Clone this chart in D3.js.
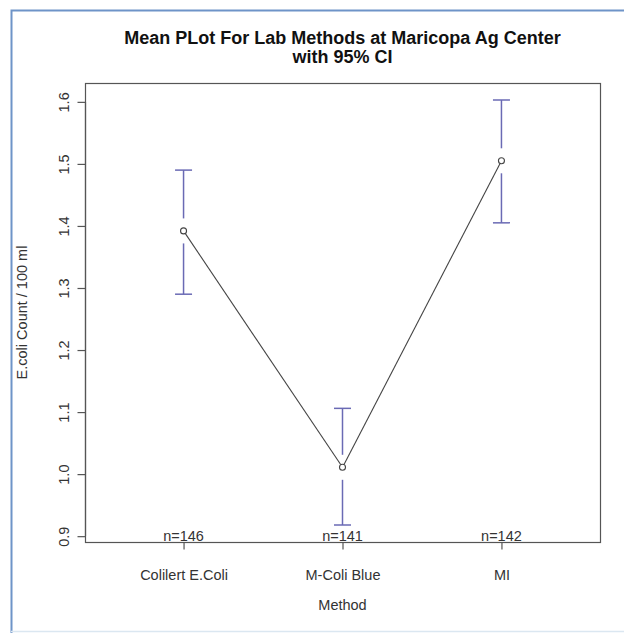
<!DOCTYPE html>
<html>
<head>
<meta charset="utf-8">
<script src="https://cdn.jsdelivr.net/npm/d3@7"></script>
<style>
  html, body { margin: 0; padding: 0; background: #fff; }
  svg { display: block; font-family: "Liberation Sans", Arial, sans-serif; }
</style>
</head>
<body>
<svg id="chart" width="624" height="633"></svg>
<script>
// Mean E.coli count per lab method with 95% confidence intervals
const methods = ["Colilert E.Coli", "M-Coli Blue", "MI"];
const means   = [1.392, 1.011, 1.505];
const ciLower = [1.290, 0.918, 1.405];
const ciUpper = [1.490, 1.106, 1.603];
const counts  = [146, 141, 142];
const yTicks  = [0.9, 1.0, 1.1, 1.2, 1.3, 1.4, 1.5, 1.6];

const svg = d3.select("#chart");
const fs = 14.5;

// outer frame
svg.append("path")
  .attr("d", "M11.5,633 V10.5 H624")
  .attr("fill", "none").attr("stroke", "#6e94c8").attr("stroke-width", 2);
svg.append("line")
  .attr("x1", 11).attr("x2", 624).attr("y1", 631.5).attr("y2", 631.5)
  .attr("stroke", "#dbe7f1").attr("stroke-width", 1.5);

const box = { left: 85, right: 600, top: 83, bottom: 542 };

// x positions use R-style padded range around indices 1..3
const x = d3.scaleLinear().domain([0.38, 3.62]).range([box.left, box.right]);
const yMin = d3.min(ciLower), yMax = d3.max(ciUpper);
const pad = (yMax - yMin) * 0.04;
const y = d3.scaleLinear().domain([yMin - pad, yMax + pad]).range([box.bottom, box.top]);

const textCol = "#333";

// plot box
svg.append("rect")
  .attr("x", box.left + 0.5).attr("y", box.top + 0.5)
  .attr("width", box.right - box.left).attr("height", box.bottom - box.top)
  .attr("fill", "none").attr("stroke", "#555").attr("stroke-width", 1.2);

// y axis
const yAxis = svg.append("g")
  .attr("transform", `translate(${box.left + 0.5},0)`)
  .call(d3.axisLeft(y).tickValues(yTicks).tickSize(8).tickPadding(0)
    .tickFormat(d3.format(".1f")));
yAxis.select(".domain").attr("stroke", "#555").attr("stroke-width", 1.2)
  .attr("d", `M0,${y(yTicks[0])}V${y(yTicks[yTicks.length - 1])}`);
yAxis.selectAll(".tick line").attr("stroke", "#555").attr("stroke-width", 1.2);
yAxis.selectAll(".tick text")
  .attr("transform", "rotate(-90)")
  .attr("x", 0).attr("y", -17)
  .attr("dy", 0)
  .attr("text-anchor", "middle")
  .attr("font-size", fs).attr("fill", textCol)
  .attr("font-family", "Liberation Sans, Arial, sans-serif");

// x axis
const xAxis = svg.append("g")
  .attr("transform", `translate(0,${box.bottom + 0.5})`)
  .call(d3.axisBottom(x).tickValues([1, 2, 3]).tickSize(7).tickPadding(20)
    .tickFormat(d => methods[d - 1]));
xAxis.select(".domain").attr("stroke", "#555").attr("stroke-width", 1.2)
  .attr("d", `M${x(1)},0H${x(3)}`);
xAxis.selectAll(".tick line").attr("stroke", "#555").attr("stroke-width", 1.2);
xAxis.selectAll(".tick text")
  .attr("font-size", fs).attr("fill", textCol)
  .attr("font-family", "Liberation Sans, Arial, sans-serif");

// axis titles
svg.append("text")
  .attr("x", x(2)).attr("y", 610)
  .attr("text-anchor", "middle").attr("font-size", fs).attr("fill", textCol)
  .text("Method");
svg.append("text")
  .attr("transform", `translate(27,${(box.top + box.bottom) / 2}) rotate(-90)`)
  .attr("text-anchor", "middle").attr("font-size", fs).attr("fill", textCol)
  .text("E.coli Count / 100 ml");

// title
const title = svg.append("text")
  .attr("text-anchor", "middle").attr("font-weight", "bold")
  .attr("font-size", 18).attr("fill", "#111");
title.append("tspan").attr("x", (box.left + box.right) / 2).attr("y", 44)
  .text("Mean PLot For Lab Methods at Maricopa Ag Center");
title.append("tspan").attr("x", (box.left + box.right) / 2).attr("y", 63)
  .text("with 95% CI");

const data = methods.map((m, i) => ({
  i: i + 1, mean: means[i], lo: ciLower[i], hi: ciUpper[i], n: counts[i]
}));

// line connecting the means, trimmed at the circles
const r = 3;
for (let k = 0; k < data.length - 1; k++) {
  const a = data[k], b = data[k + 1];
  const x1 = x(a.i), y1 = y(a.mean), x2 = x(b.i), y2 = y(b.mean);
  const len = Math.hypot(x2 - x1, y2 - y1);
  const ux = (x2 - x1) / len, uy = (y2 - y1) / len;
  svg.append("line")
    .attr("x1", x1 + ux * r).attr("y1", y1 + uy * r)
    .attr("x2", x2 - ux * r).attr("y2", y2 - uy * r)
    .attr("stroke", "#444").attr("stroke-width", 1.1);
}

// confidence interval bars with a gap around each mean
const gap = 12.5, cap = 8.5, barCol = "#6a6ab4";
const bars = svg.append("g").attr("stroke", barCol).attr("stroke-width", 1.5);
data.forEach(d => {
  const cx = x(d.i), cy = y(d.mean);
  bars.append("line").attr("x1", cx).attr("x2", cx)
    .attr("y1", y(d.hi)).attr("y2", cy - gap);
  bars.append("line").attr("x1", cx).attr("x2", cx)
    .attr("y1", cy + gap).attr("y2", y(d.lo));
  bars.append("line").attr("x1", cx - cap).attr("x2", cx + cap)
    .attr("y1", y(d.hi)).attr("y2", y(d.hi));
  bars.append("line").attr("x1", cx - cap).attr("x2", cx + cap)
    .attr("y1", y(d.lo)).attr("y2", y(d.lo));
});

// mean markers
svg.selectAll("circle.mean").data(data).join("circle")
  .attr("class", "mean")
  .attr("cx", d => x(d.i)).attr("cy", d => y(d.mean)).attr("r", r)
  .attr("fill", "#fff").attr("stroke", "#444").attr("stroke-width", 1.1);

// sample sizes along the bottom
svg.selectAll("text.n").data(data).join("text")
  .attr("class", "n")
  .attr("x", d => x(d.i)).attr("y", box.bottom - 1.5)
  .attr("text-anchor", "middle").attr("font-size", fs).attr("fill", textCol)
  .text(d => "n=" + d.n);
</script>
</body>
</html>
